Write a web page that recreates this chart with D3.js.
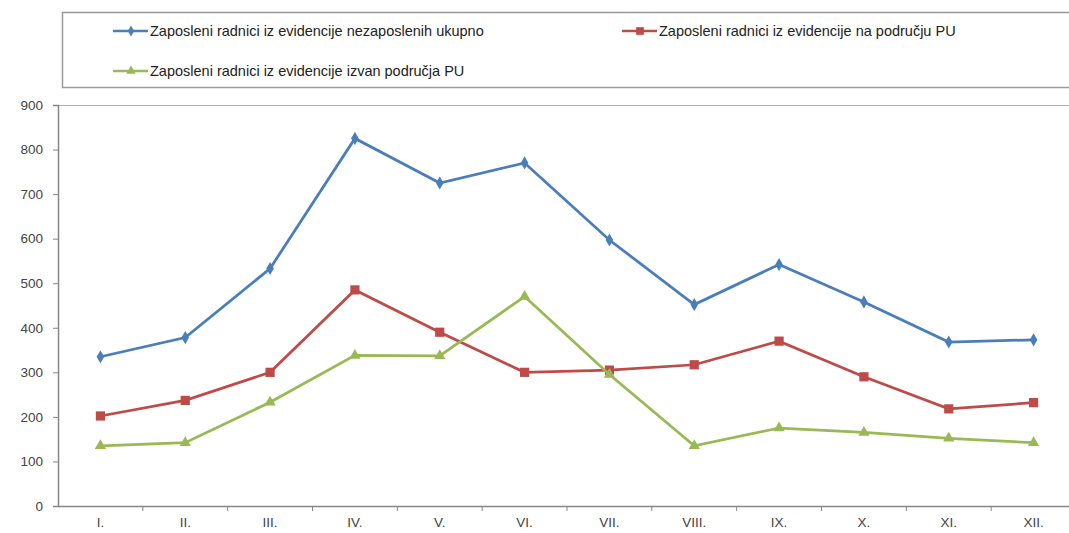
<!DOCTYPE html>
<html>
<head>
<meta charset="utf-8">
<script src="https://cdn.jsdelivr.net/npm/d3@7"></script>
<style>
  body { margin: 0; background: #fff; }
  svg { display: block; font-family: "Liberation Sans", Arial, sans-serif; }
</style>
</head>
<body>
<div id="chart"></div>
<script>
// Chart data
const months = ["I.", "II.", "III.", "IV.", "V.", "VI.", "VII.", "VIII.", "IX.", "X.", "XI.", "XII."];
const ukupno = [335, 378, 533, 825, 725, 770, 597, 452, 542, 458, 368, 373];
const naPodrucju = [202, 237, 300, 485, 390, 300, 305, 317, 370, 290, 218, 232];
const izvanPodrucja = [135, 142, 233, 338, 337, 470, 295, 135, 175, 165, 152, 142];
const yTicks = [0, 100, 200, 300, 400, 500, 600, 700, 800, 900];
const seriesNames = [
  "Zaposleni radnici iz evidencije nezaposlenih ukupno",
  "Zaposleni radnici iz evidencije na području PU",
  "Zaposleni radnici iz evidencije izvan područja PU"
];

const series = [
  { name: seriesNames[0], values: ukupno, color: "#4a7ebb", symbol: d3.symbolDiamond, size: 50 },
  { name: seriesNames[1], values: naPodrucju, color: "#be4b48", symbol: d3.symbolSquare, size: 85 },
  { name: seriesNames[2], values: izvanPodrucja, color: "#98b954", symbol: d3.symbolTriangle, size: 55 }
];

const width = 1069, height = 533;
const plot = { left: 58, right: 1076, top: 105, bottom: 506 };

const svg = d3.select("#chart").append("svg")
  .attr("width", width)
  .attr("height", height);

const x = d3.scaleBand().domain(months).range([plot.left, plot.right]);
const y = d3.scaleLinear().domain([0, 900]).range([plot.bottom, plot.top]);

// legend box
svg.append("rect")
  .attr("x", 62.5).attr("y", 12.5)
  .attr("width", 1030).attr("height", 75)
  .attr("fill", "#fff")
  .attr("stroke", "#9a9a9a")
  .attr("stroke-width", 1.5);

// top border of plot area
svg.append("line")
  .attr("x1", plot.left).attr("x2", width)
  .attr("y1", plot.top + 0.5).attr("y2", plot.top + 0.5)
  .attr("stroke", "#b0b0b0");

// axes
const yAxis = svg.append("g")
  .attr("transform", `translate(${plot.left},0)`)
  .call(d3.axisLeft(y).tickValues(yTicks).tickSize(5).tickPadding(10));

const xAxis = svg.append("g")
  .attr("transform", `translate(0,${plot.bottom})`)
  .call(d3.axisBottom(x).tickSize(0).tickPadding(11));

// boundary ticks between months
xAxis.selectAll(".bound")
  .data(months.slice(1))
  .enter()
  .append("line")
  .attr("class", "bound")
  .attr("x1", (d) => x(d)).attr("x2", (d) => x(d))
  .attr("y1", 0).attr("y2", 5)
  .attr("stroke", "#868686");

[yAxis, xAxis].forEach((g) => {
  g.select(".domain").attr("stroke", "#868686").attr("stroke-width", 1.5);
  g.selectAll(".tick line").attr("stroke", "#868686");
  g.selectAll("text").attr("fill", "#444").style("font-size", "13.5px")
    .style("font-family", '"Liberation Sans", Arial, sans-serif');
});

const line = d3.line()
  .x((d, i) => x(months[i]) + x.bandwidth() / 2)
  .y((d) => y(d));

series.forEach((s) => {
  svg.append("path")
    .datum(s.values)
    .attr("fill", "none")
    .attr("stroke", s.color)
    .attr("stroke-width", 2.75)
    .attr("d", line);

  svg.selectAll(null)
    .data(s.values)
    .enter()
    .append("path")
    .attr("d", d3.symbol(s.symbol, s.size))
    .attr("transform", (d, i) => `translate(${x(months[i]) + x.bandwidth() / 2},${y(d)})`)
    .attr("fill", s.color);
});

// legend entries
const legendPos = [[113, 31], [622, 31], [113, 71]];
series.forEach((s, i) => {
  const [lx, ly] = legendPos[i];
  const g = svg.append("g").attr("transform", `translate(${lx},${ly})`);
  g.append("line")
    .attr("x1", 0).attr("x2", 35)
    .attr("stroke", s.color).attr("stroke-width", 2.5);
  g.append("path")
    .attr("d", d3.symbol(s.symbol, s.size * 0.7))
    .attr("transform", "translate(18,0)")
    .attr("fill", s.color);
  g.append("text")
    .attr("x", 37).attr("dy", "0.35em")
    .attr("fill", "#222")
    .style("font-size", "14.5px")
    .text(s.name);
});
</script>
</body>
</html>
